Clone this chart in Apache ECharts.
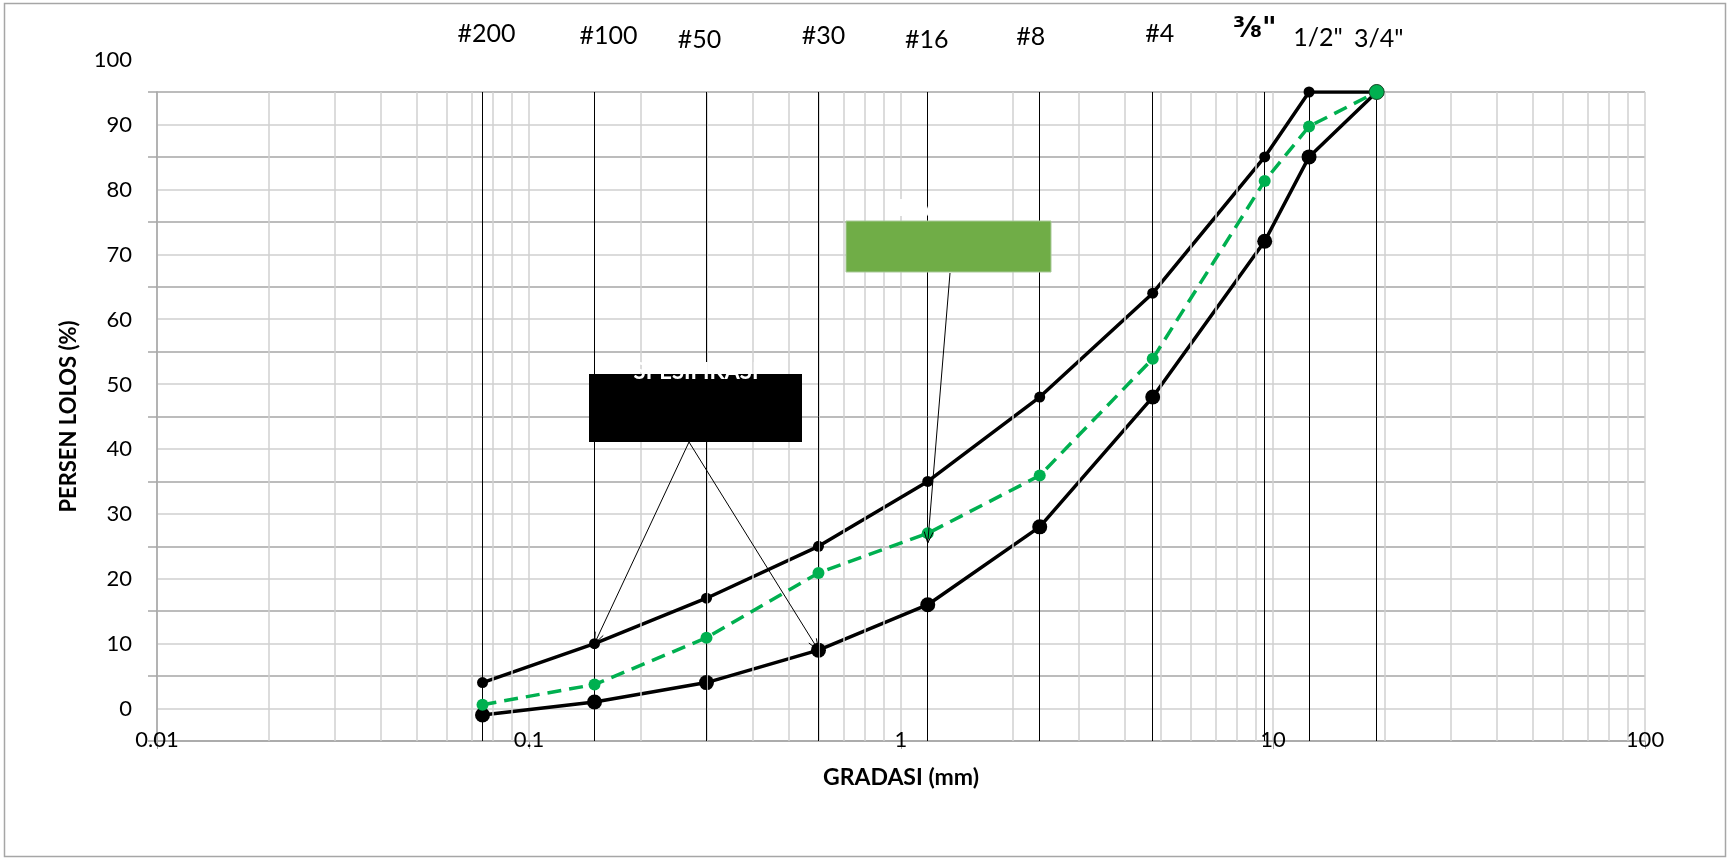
<!DOCTYPE html>
<html>
<head>
<meta charset="utf-8">
<script src="https://cdn.jsdelivr.net/npm/echarts@6/dist/echarts.min.js"></script>
<style>
html, body { margin: 0; padding: 0; background: #fff; }
#chart { width: 1731px; height: 859px; }
</style>
</head>
<body>
<div id="chart"></div>
<script>
// sieve sizes (mm) and names
var sieveNames = ['#200', '#100', '#50', '#30', '#16', '#8', '#4', '\u215C"', '1/2"', '3/4"'];
var sieveSizes = [0.075, 0.15, 0.3, 0.6, 1.18, 2.36, 4.75, 9.5, 12.5, 19];

// percent passing
var specUpper = [9, 15, 22, 30, 40, 53, 69, 90, 100, 100];
var specLower = [4, 6, 9, 14, 21, 33, 53, 77, 90, 100];
var mixPassing = [5.6, 8.7, 15.9, 25.9, 32, 40.9, 58.9, 86.3, 94.7, 100];

var xTicks = ['0.01', '0.1', '1', '10', '100'];
var decades = [0.01, 0.1, 1, 10];
var minorSteps = [2, 3, 4, 5, 6, 7, 8, 9];

// where the arrows point (annotation targets)
var specArrowTargets = [[0.15, 15], [0.6, 14]];
var mixArrowTarget = [1.18, 30.5];

// layout of the top sieve labels (pixel nudges)
var labelDx = [4, 14, -7, 5, -1, -9, 7, -10, 9, 2];
var labelY = [34, 36, 40, 36, 40, 37, 34, 30, 38, 39];

var FONT = 'Lato, "Noto Sans", "DejaVu Sans", sans-serif';

function pairs(ys) {
    return sieveSizes.map(function (s, i) { return [s, ys[i]]; });
}

function vLine(x) {
    return [{ coord: [x, 0] }, { coord: [x, 100] }];
}

var minorGrid = [];
decades.forEach(function (d) {
    minorSteps.forEach(function (m) {
        minorGrid.push(vLine(+(d * m).toPrecision(3)));
    });
});

var chartDom = document.getElementById('chart');
var myChart = echarts.init(chartDom);
var option;

option = {
    animation: false,
    backgroundColor: '#fff',
    grid: { left: 157, right: 86, top: 92, bottom: 118, outerBoundsMode: 'none' },
    xAxis: {
        type: 'log',
        logBase: 10,
        min: 0.01,
        max: 100,
        name: 'GRADASI (mm)',
        nameLocation: 'middle',
        nameGap: 37,
        nameTextStyle: { fontFamily: FONT, fontSize: 23, fontWeight: 'bold', color: '#000', verticalAlign: 'middle' },
        axisLine: { lineStyle: { color: '#a6a6a6', width: 1.5 } },
        axisTick: { show: true, length: 8, lineStyle: { color: '#a6a6a6' } },
        axisLabel: {
            margin: -12,
            showMinLabel: true, showMaxLabel: true,
            fontFamily: FONT, fontSize: 22, color: '#000',
            formatter: function (v, i) { return xTicks[i]; }
        },
        splitLine: { show: true, lineStyle: { color: '#d0d0d0', width: 1.5 } }
    },
    yAxis: {
        type: 'value',
        min: 0,
        max: 100,
        interval: 10,
        name: 'PERSEN LOLOS (%)',
        nameLocation: 'middle',
        nameGap: 88,
        nameTextStyle: { fontFamily: FONT, fontSize: 22, fontWeight: 'bold', color: '#000', verticalAlign: 'middle' },
        axisLine: { show: true, lineStyle: { color: '#a6a6a6', width: 1.5 } },
        axisTick: { show: true, length: 9, lineStyle: { color: '#a6a6a6', width: 1.5 } },
        axisLabel: {
            margin: 25,
            showMinLabel: true, showMaxLabel: true,
            fontFamily: FONT, fontSize: 22, color: '#000',
            // labels sit half a step above their gridline, as in the original
            verticalAlign: 'bottom',
            lineHeight: 64
        },
        splitLine: { show: true, lineStyle: { color: '#a6a6a6', width: 1.5 } },
        minorTick: { show: false, splitNumber: 2 },
        minorSplitLine: { show: true, lineStyle: { color: '#d0d0d0', width: 1.5 } }
    },
    series: [
        {
            // log minor grid
            type: 'line', data: [], z: 1, silent: true,
            markLine: {
                silent: true, symbol: 'none', label: { show: false },
                lineStyle: { color: '#d0d0d0', width: 1.5, type: 'solid' },
                data: minorGrid
            }
        },
        {
            // sieve lines
            type: 'line', data: [], z: 2, silent: true,
            markLine: {
                silent: true, symbol: 'none', label: { show: false },
                lineStyle: { color: '#000', width: 1, type: 'solid' },
                data: sieveSizes.map(vLine)
            }
        },
        {
            name: 'Spesifikasi atas',
            type: 'line', z: 4,
            data: pairs(specUpper),
            symbol: 'circle', symbolSize: 11,
            lineStyle: { color: '#000', width: 3.5 },
            itemStyle: { color: '#000' }
        },
        {
            name: 'Spesifikasi bawah',
            type: 'line', z: 4,
            data: pairs(specLower),
            symbol: 'circle', symbolSize: 15,
            lineStyle: { color: '#000', width: 3.5 },
            itemStyle: { color: '#000' }
        },
        {
            name: 'Hasil',
            type: 'line', z: 5,
            data: pairs(mixPassing).map(function (p, i) {
                if (i === mixPassing.length - 1) {
                    return { value: p, symbolSize: 15, itemStyle: { borderColor: '#1d4d2c', borderWidth: 1 } };
                }
                return p;
            }),
            symbol: 'circle', symbolSize: 12,
            lineStyle: { color: '#00b050', width: 3.5, type: [14, 8] },
            itemStyle: { color: '#00b050' }
        }
    ]
};

option && myChart.setOption(option);

// annotations, top labels, frame
function arrowGraphics(from, to) {
    var ang = Math.atan2(to[1] - from[1], to[0] - from[0]);
    var h = 12, a = 0.38;
    return [
        { type: 'line', z: 10, shape: { x1: from[0], y1: from[1], x2: to[0], y2: to[1] }, style: { stroke: '#000', lineWidth: 1 } },
        {
            type: 'polyline', z: 10,
            shape: { points: [
                [to[0] - h * Math.cos(ang - a), to[1] - h * Math.sin(ang - a)],
                to,
                [to[0] - h * Math.cos(ang + a), to[1] - h * Math.sin(ang + a)]
            ] },
            style: { stroke: '#000', lineWidth: 1, fill: null }
        }
    ];
}

var px = function (p) { return myChart.convertToPixel({ xAxisIndex: 0, yAxisIndex: 0 }, p); };
var g = [];

g.push({ type: 'rect', z: 0, silent: true, shape: { x: 4.5, y: 3.5, width: 1721, height: 853 },
    style: { fill: null, stroke: '#a6a6a6', lineWidth: 1.5 } });

sieveNames.forEach(function (name, i) {
    var x = px([sieveSizes[i], 0])[0];
    var isFrac = name.indexOf('\u215C') >= 0;
    g.push({ type: 'text', z: 10, x: x + labelDx[i], y: labelY[i],
        style: {
            text: name,
            fontFamily: isFrac ? '"DejaVu Sans", sans-serif' : FONT,
            fontSize: isFrac ? 28 : 25,
            fontWeight: isFrac ? 'bold' : 'normal',
            fill: '#000', align: 'center', verticalAlign: 'middle'
        } });
});

// SPESIFIKASI box
g.push({ type: 'rect', z: 9, shape: { x: 589, y: 374, width: 213, height: 68 }, style: { fill: '#000' } });
g.push({ type: 'text', z: 10, x: 696, y: 372,
    style: { text: 'SPESIFIKASI', fontFamily: FONT, fontSize: 22, fontWeight: 'bold', fill: '#fff', align: 'center', verticalAlign: 'middle' } });
specArrowTargets.forEach(function (t) {
    g = g.concat(arrowGraphics([689, 442], px(t)));
});

// HASIL box
g.push({ type: 'rect', z: 9, shape: { x: 846, y: 221, width: 205, height: 51 }, style: { fill: '#70ad47', stroke: '#a9c99a', lineWidth: 1 } });
g.push({ type: 'text', z: 10, x: 948, y: 209,
    style: { text: 'HASIL UJI', fontFamily: FONT, fontSize: 22, fontWeight: 'bold', fill: '#fff', align: 'center', verticalAlign: 'middle' } });
g = g.concat(arrowGraphics([950, 273], px(mixArrowTarget)));

myChart.setOption({ graphic: g });
</script>
</body>
</html>
